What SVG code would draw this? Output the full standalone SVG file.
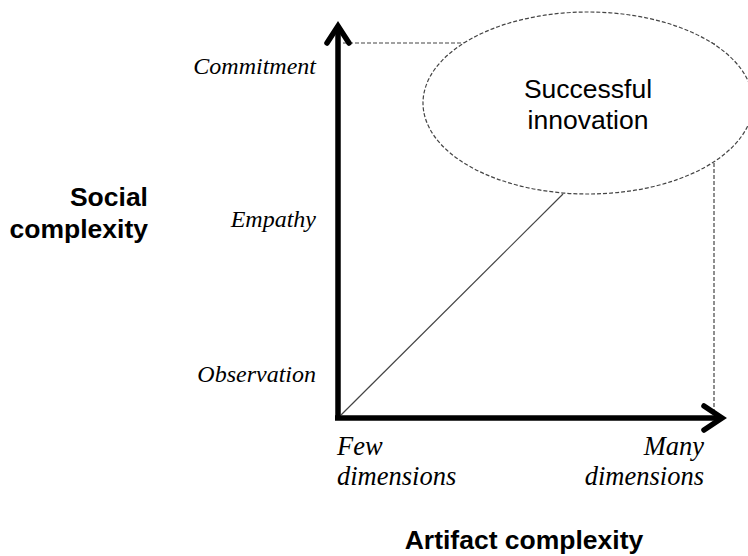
<svg xmlns="http://www.w3.org/2000/svg" width="748" height="556" viewBox="0 0 748 556">
<style>
.axis{stroke:#000;stroke-width:5.5;fill:none;stroke-linecap:butt;stroke-linejoin:miter}
.head{stroke:#000;stroke-width:5.5;fill:none;stroke-linecap:round;stroke-linejoin:miter}
.dash{stroke:#444;stroke-width:1.2;fill:none;stroke-dasharray:4 2}
.thin{stroke:#444;stroke-width:1.2;fill:none}
.lvl{font-family:"Liberation Serif","Times New Roman",serif;font-style:italic;font-size:24px;fill:#000}
.xl{font-family:"Liberation Serif","Times New Roman",serif;font-style:italic;font-size:26.5px;fill:#000}
.title{font-family:"Liberation Sans",Arial,sans-serif;font-weight:bold;font-size:26.5px;fill:#000}
.node{font-family:"Liberation Sans",Arial,sans-serif;font-size:26.5px;fill:#000}
</style>
<g id="connectors">
<line class="dash" x1="343" y1="43" x2="714" y2="43"/>
<line class="dash" x1="714" y1="43" x2="714" y2="414"/>
<line class="thin" x1="341" y1="415" x2="563" y2="194"/>
</g>
<g id="axes">
<line class="axis" x1="338" y1="420" x2="338" y2="26"/>
<polyline class="head" points="327,43 338,26 349,43"/>
<line class="axis" x1="335" y1="418" x2="722" y2="418"/>
<polyline class="head" points="704,406 722,418 704,430"/>
</g>
<g id="successful-innovation">
<ellipse class="dash" cx="588" cy="103" rx="165" ry="91" style="fill:#fff"/>
<text class="node" x="588" y="98" text-anchor="middle">Successful</text>
<text class="node" x="588" y="129" text-anchor="middle">innovation</text>
</g>
<g id="y-labels">
<text class="lvl" x="316" y="74" text-anchor="end">Commitment</text>
<text class="lvl" x="316" y="227" text-anchor="end">Empathy</text>
<text class="lvl" x="316" y="382" text-anchor="end">Observation</text>
</g>
<g id="x-labels">
<text class="xl" x="337" y="455">Few</text>
<text class="xl" x="337" y="485">dimensions</text>
<text class="xl" x="704" y="455" text-anchor="end">Many</text>
<text class="xl" x="704" y="485" text-anchor="end">dimensions</text>
</g>
<g id="axis-titles">
<text class="title" x="148" y="206" text-anchor="end">Social</text>
<text class="title" x="148" y="238" text-anchor="end">complexity</text>
<text class="title" x="524" y="549" text-anchor="middle">Artifact complexity</text>
</g>
</svg>
